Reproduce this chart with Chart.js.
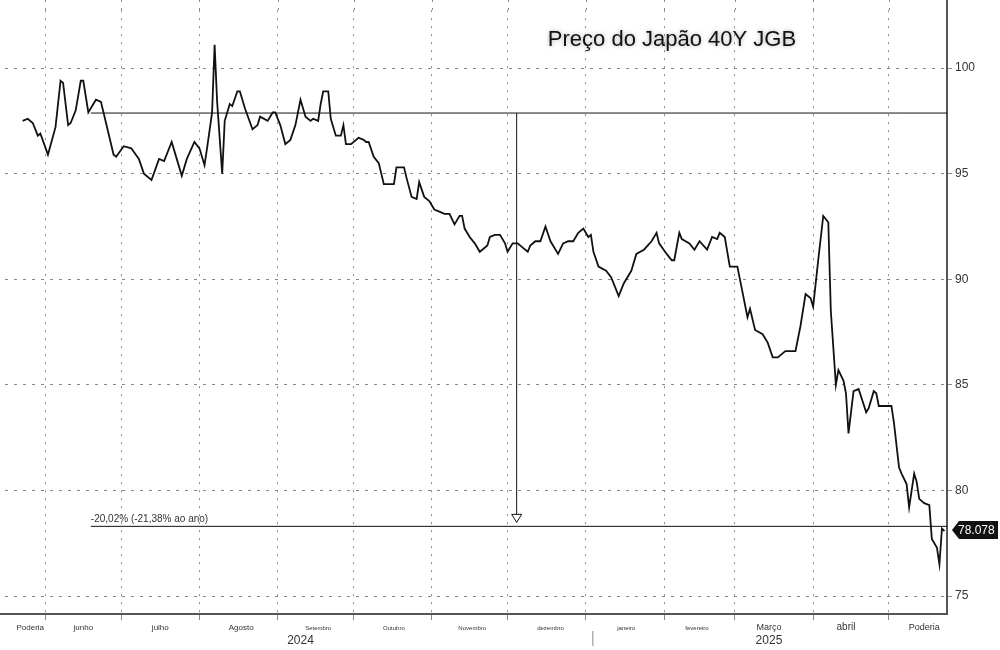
<!DOCTYPE html>
<html>
<head>
<meta charset="utf-8">
<script src="https://cdn.jsdelivr.net/npm/chart.js@4"></script>
<style>
  body { margin: 0; background: #fff; }
  #wrap { width: 1000px; height: 650px; }
</style>
</head>
<body>
<div id="wrap"><canvas id="jgb"></canvas></div>
<script>
// dias desde 20/05/2024 e preço do JGB 40 anos
const dias = [3,5,7,9,10,13,16,18,19,21,22,24,26,27,29,32,34,36,39,40,43,46,49,51,54,57,59,62,64,66,68,71,73,75,76,78,79,80,82,83,85,86,88,89,91,94,96,97,100,102,103,105,107,109,111,113,115,117,118,120,121,122,124,125,127,129,130,131,133,136,138,139,140,142,144,146,148,150,151,154,155,157,159,160,162,164,166,168,170,172,174,176,177,178,180,182,184,185,187,188,190,192,194,195,197,199,201,203,204,206,208,210,212,215,217,219,221,223,225,227,228,229,231,234,236,239,241,244,246,249,252,254,255,258,260,261,263,264,267,269,271,274,276,278,279,281,283,286,288,290,291,293,296,298,300,302,305,309,311,313,315,316,318,320,322,323,325,326,328,329,330,332,334,337,338,340,341,342,347,348,350,351,353,354,356,357,358,360,362,363,365,366,367,368];
const precos = [97.5,97.6,97.4,96.8,96.9,95.9,97.2,99.4,99.3,97.3,97.4,98.0,99.4,99.4,97.9,98.5,98.4,97.4,95.9,95.8,96.3,96.2,95.7,95.0,94.7,95.7,95.6,96.5,95.7,94.9,95.7,96.5,96.2,95.4,96.2,97.9,101.1,98.4,95.0,97.5,98.3,98.2,98.9,98.9,98.1,97.1,97.3,97.7,97.5,97.9,97.9,97.3,96.4,96.6,97.3,98.5,97.7,97.5,97.6,97.5,98.3,98.9,98.9,97.6,96.8,96.8,97.3,96.4,96.4,96.7,96.6,96.5,96.5,95.8,95.5,94.5,94.5,94.5,95.3,95.3,94.8,93.9,93.8,94.6,93.9,93.7,93.3,93.2,93.1,93.1,92.6,93.0,93.0,92.4,92.0,91.7,91.3,91.4,91.6,92.0,92.1,92.1,91.7,91.3,91.7,91.7,91.5,91.3,91.6,91.8,91.8,92.5,91.8,91.2,91.7,91.8,91.8,92.2,92.4,92.0,92.1,91.3,90.6,90.4,90.1,89.2,89.8,90.4,91.2,91.4,91.8,92.2,91.7,91.2,90.9,90.9,92.2,91.9,91.7,91.4,91.8,91.4,92.0,91.9,92.2,92.0,90.6,90.6,89.4,88.2,88.6,87.6,87.4,87.0,86.3,86.3,86.6,86.6,87.8,89.3,89.1,88.7,90.9,93.0,92.7,88.5,85.0,85.7,85.2,84.6,82.7,84.7,84.8,83.7,83.9,84.7,84.6,84.0,84.0,83.2,81.1,80.8,80.3,79.2,80.8,80.4,79.6,79.4,79.3,77.7,77.3,76.5,78.2,78.078];

// limites dos meses (grade) e rótulos
const inicioMes = [12,42,73,104,134,165,195,226,257,285,316,346];
const meses = ['Poderia','junho','julho','Agosto','Setembro','Outubro','Novembro','dezembro','janeiro','fevereiro','Março','abril','Poderia'];
const posMeses = [6,27,57.5,89.5,120,150,181,212,242,270,298.5,329,360];
const tamMeses = [8,8,8,8,6,6,6,6,6,6,9,10,9];
const anos = ['2024','2025'];
const posAnos = [113,298.5];
const yTicks = [75,80,85,90,95,100];
const nivelRef = 97.87, nivelAtual = 78.3, diaRef = 30, diaSeta = 198.6;

const extras = {
  id: 'extras',
  beforeDatasetsDraw(chart) {
    // prolonga a grade vertical até o topo
    const c = chart.ctx, x = chart.scales.x, a = chart.chartArea;
    c.save();
    c.strokeStyle = '#888'; c.lineWidth = 1; c.setLineDash([2, 6]);
    c.beginPath();
    inicioMes.forEach(d => { const px = Math.round(x.getPixelForValue(d)) + 0.5; c.moveTo(px, 0); c.lineTo(px, a.top); });
    c.stroke();
    c.restore();
  },
  afterDraw(chart) {
    const c = chart.ctx, x = chart.scales.x, y = chart.scales.y, a = chart.chartArea;
    c.save();
    // eixos
    c.strokeStyle = '#555'; c.lineWidth = 2;
    c.beginPath();
    c.moveTo(0, a.bottom); c.lineTo(a.right, a.bottom); c.lineTo(a.right, 0);
    c.stroke();
    // linhas de referência
    c.strokeStyle = '#111'; c.lineWidth = 1;
    c.beginPath();
    c.moveTo(x.getPixelForValue(diaRef), y.getPixelForValue(nivelRef));
    c.lineTo(a.right, y.getPixelForValue(nivelRef));
    c.moveTo(x.getPixelForValue(diaRef), y.getPixelForValue(nivelAtual));
    c.lineTo(a.right, y.getPixelForValue(nivelAtual));
    const sx = x.getPixelForValue(diaSeta), sy = y.getPixelForValue(nivelAtual) - 4;
    c.moveTo(sx, y.getPixelForValue(nivelRef)); c.lineTo(sx, sy);
    c.stroke();
    c.fillStyle = '#fff';
    c.beginPath(); c.moveTo(sx - 5, sy - 8); c.lineTo(sx + 5, sy - 8); c.lineTo(sx, sy); c.closePath();
    c.fill(); c.stroke();
    c.fillStyle = '#333'; c.font = '10px "Liberation Sans"'; c.textAlign = 'left';
    c.fillText('-20,02% (-21,38% ao ano)', x.getPixelForValue(diaRef), y.getPixelForValue(nivelAtual) - 4);
    // etiqueta do último valor
    const ly = y.getPixelForValue(78.078) - 1;
    c.fillStyle = '#111';
    c.beginPath(); c.moveTo(a.right + 5, ly); c.lineTo(a.right + 12, ly - 9); c.lineTo(998, ly - 9);
    c.lineTo(998, ly + 9); c.lineTo(a.right + 12, ly + 9); c.closePath(); c.fill();
    c.fillStyle = '#fff'; c.font = '12px "Liberation Sans"';
    c.fillText('78.078', a.right + 11, ly + 4);
    // meses e anos
    c.fillStyle = '#333'; c.textAlign = 'center';
    meses.forEach((m, i) => {
      c.font = tamMeses[i] + 'px "Liberation Sans"';
      c.fillText(m, x.getPixelForValue(posMeses[i]), a.bottom + 16);
    });
    c.font = '12px "Liberation Sans"';
    anos.forEach((t, i) => c.fillText(t, x.getPixelForValue(posAnos[i]), a.bottom + 30));
    c.strokeStyle = '#888';
    c.beginPath(); c.moveTo(x.getPixelForValue(226) + 7, a.bottom + 17); c.lineTo(x.getPixelForValue(226) + 7, a.bottom + 32); c.stroke();
    // título
    c.font = '22px "Liberation Sans"'; c.fillStyle = '#111';
    c.shadowColor = 'rgba(120,120,120,0.6)'; c.shadowBlur = 4;
    c.fillText('Preço do Japão 40Y JGB', 672, 46);
    c.restore();
  }
};

new Chart(document.getElementById('jgb'), {
  type: 'line',
  data: {
    datasets: [{
      data: dias.map((d, i) => ({ x: d, y: precos[i] })),
      borderColor: '#111',
      borderWidth: 1.8,
      pointRadius: 0,
      tension: 0
    }]
  },
  options: {
    responsive: true,
    maintainAspectRatio: false,
    animation: false,
    layout: { padding: { left: 5, top: 0, right: 0 } },
    plugins: { legend: { display: false }, tooltip: { enabled: false } },
    scales: {
      x: {
        type: 'linear', min: -4, max: 369,
        afterBuildTicks: s => { s.ticks = inicioMes.map(v => ({ value: v })); },
        afterFit: s => { s.height = 36; },
        ticks: { display: false },
        grid: { color: '#888', lineWidth: 1, tickLength: 6 },
        border: { display: false, dash: [2, 6] }
      },
      y: {
        position: 'right', min: 74.15, max: 102.74,
        afterBuildTicks: s => { s.ticks = yTicks.map(v => ({ value: v })); },
        afterFit: s => { s.width = 53; },
        ticks: { color: '#333', font: { family: 'Liberation Sans', size: 12 }, padding: 3 },
        grid: { color: '#888', lineWidth: 1, tickLength: 5 },
        border: { display: false, dash: [3, 6] }
      }
    }
  },
  plugins: [extras]
});
</script>
</body>
</html>
